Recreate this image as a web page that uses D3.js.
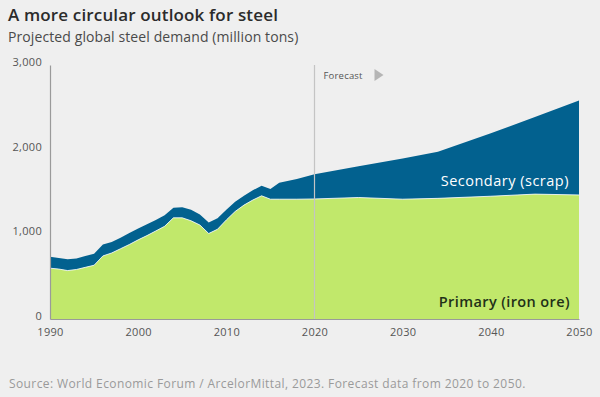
<!DOCTYPE html>
<html>
<head>
<meta charset="utf-8">
<script src="https://cdn.jsdelivr.net/npm/d3@7"></script>
<style>
  body { margin: 0; background: #efefef; }
  svg { display: block; font-family: "Open Sans", sans-serif; }
</style>
</head>
<body>
<div id="chart"></div>
<script>
// data (million tons)
var years = [1990, 1991, 1992, 1993, 1994, 1995, 1996, 1997, 1998, 1999,
  2000, 2001, 2002, 2003, 2004, 2005, 2006, 2007, 2008, 2009,
  2010, 2011, 2012, 2013, 2014, 2015, 2016, 2018, 2020, 2025,
  2030, 2034, 2040, 2045, 2050];
var primary = [600, 590, 572, 585, 610, 635, 745, 780, 830, 880,
  935, 985, 1040, 1095, 1195, 1195, 1160, 1110, 1010, 1060,
  1170, 1270, 1345, 1405, 1455, 1415, 1415, 1415, 1418, 1435,
  1415, 1425, 1450, 1475, 1465];
var total = [736, 720, 705, 715, 745, 770, 880, 910, 960, 1015,
  1070, 1120, 1170, 1225, 1315, 1320, 1290, 1235, 1140, 1190,
  1290, 1385, 1455, 1520, 1575, 1535, 1610, 1655, 1710, 1805,
  1895, 1975, 2195, 2385, 2580];
var yTicks = [0, 1000, 2000, 3000];
var xTicks = [1990, 2000, 2010, 2020, 2030, 2040, 2050];
var forecastStart = 2020;

var svgWidth = 600;
var svgHeight = 397;
var margin = { top: 65, right: 21, bottom: 78, left: 50 };
var chartWidth = svgWidth - margin.left - margin.right;
var chartHeight = svgHeight - margin.top - margin.bottom;

var svg = d3.select("#chart")
  .append("svg")
  .attr("width", svgWidth)
  .attr("height", svgHeight);

svg.append("rect").attr("width", svgWidth).attr("height", svgHeight).attr("fill", "#efefef");

// titles
svg.append("text")
  .attr("x", 8).attr("y", 21)
  .attr("font-size", 17).attr("font-weight", 600).attr("fill", "#2b2b2b")
  .attr("letter-spacing", 0.15)
  .text("A more circular outlook for steel");
svg.append("text")
  .attr("x", 8).attr("y", 42)
  .attr("font-size", 14).attr("fill", "#4a4a4a")
  .attr("letter-spacing", 0.1)
  .text("Projected global steel demand (million tons)");

var chartGroup = svg.append("g")
  .attr("transform", `translate(${margin.left}, ${margin.top})`);

var data = years.map(function(y, i) {
  return { year: y, primary: primary[i], secondary: total[i] - primary[i] };
});

var xScale = d3.scaleLinear().domain([1990, 2050]).range([0, chartWidth]);
var yScale = d3.scaleLinear().domain([0, 3000]).range([chartHeight, 0]);

var stacked = d3.stack().keys(["primary", "secondary"])(data);
var colors = { primary: "#c1e86b", secondary: "#02618f" };

var area = d3.area()
  .x(d => xScale(d.data.year))
  .y0(d => yScale(d[0]))
  .y1(d => yScale(d[1]));

chartGroup.selectAll(".layer")
  .data(stacked)
  .enter()
  .append("path")
  .attr("class", "layer")
  .attr("d", area)
  .attr("fill", d => colors[d.key]);

// thin white edge on top of primary
chartGroup.append("path")
  .datum(data)
  .attr("d", d3.line().x(d => xScale(d.year)).y(d => yScale(d.primary)))
  .attr("fill", "none")
  .attr("stroke", "#ffffff")
  .attr("stroke-width", 0.8);

// forecast line
chartGroup.append("line")
  .attr("x1", xScale(forecastStart)).attr("x2", xScale(forecastStart))
  .attr("y1", 0).attr("y2", chartHeight)
  .attr("stroke", "#c4c4c4").attr("stroke-width", 1.2);
chartGroup.append("text")
  .attr("x", xScale(forecastStart) + 9).attr("y", 14)
  .attr("font-size", 9.5).attr("fill", "#555").attr("letter-spacing", 0.2)
  .text("Forecast");
var tx = xScale(forecastStart) + 60;
chartGroup.append("path")
  .attr("d", `M${tx},4 L${tx + 9},10 L${tx},16 Z`)
  .attr("fill", "#b5b5b5");

// axes
var yAxis = d3.axisLeft(yScale).tickValues(yTicks).tickSize(0).tickPadding(8).tickFormat(d3.format(","));
var xAxis = d3.axisBottom(xScale).tickValues(xTicks).tickSize(0).tickPadding(9).tickFormat(d3.format("d"));

var gy = chartGroup.append("g").call(yAxis);
var gx = chartGroup.append("g").attr("transform", `translate(0, ${chartHeight})`).call(xAxis);
[gx, gy].forEach(function(g) {
  g.select(".domain").attr("stroke", "#9a9a9a").attr("stroke-width", 1.2);
  g.selectAll("text").attr("font-family", "Open Sans, sans-serif").attr("font-size", 11)
    .attr("letter-spacing", 0.3).attr("fill", "#555");
});
gy.selectAll("text").attr("dy", "0.05em");

// series labels
chartGroup.append("text")
  .attr("x", chartWidth - 10).attr("y", 121)
  .attr("text-anchor", "end").attr("font-size", 14.5).attr("font-weight", 500)
  .attr("letter-spacing", 0.5).attr("fill", "#ffffff")
  .text("Secondary (scrap)");
chartGroup.append("text")
  .attr("x", chartWidth - 9).attr("y", 242)
  .attr("text-anchor", "end").attr("font-size", 14.5).attr("font-weight", 600)
  .attr("letter-spacing", 0.4).attr("fill", "#223018")
  .text("Primary (iron ore)");

// source
svg.append("text")
  .attr("x", 9).attr("y", 388)
  .attr("font-size", 12).attr("fill", "#9a9a9a").attr("letter-spacing", 0.4)
  .text("Source: World Economic Forum / ArcelorMittal, 2023. Forecast data from 2020 to 2050.");
</script>
</body>
</html>
